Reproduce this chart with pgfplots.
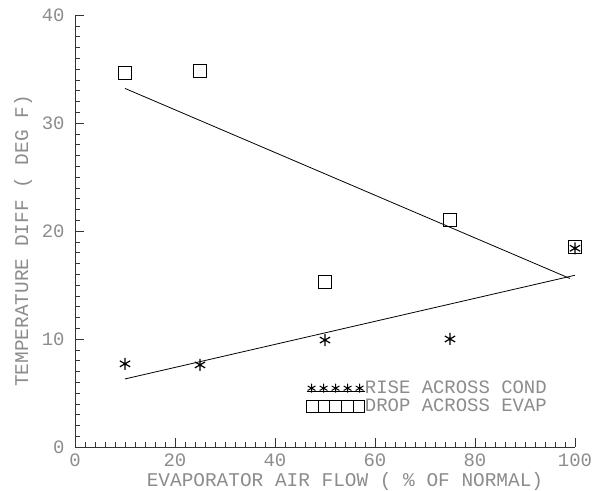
\documentclass[border=0pt]{standalone}
\usepackage{fontspec}
\setmonofont{Liberation Mono}
\usepackage{pgfplots}
\pgfplotsset{compat=1.18}
\definecolor{txt}{HTML}{8C8C8C}
\begin{document}
\begin{tikzpicture}
\begin{axis}[
 scale only axis, width=500bp, height=432bp,
 xmin=0,xmax=100,ymin=0,ymax=40,
 axis lines*=left,
 axis line style={black!80, line width=0.6pt},
 xtick={0,20,...,100}, ytick={0,10,...,40},
 minor x tick num=9, minor y tick num=9,
 tick align=inside,
 major tick length=9bp, minor tick length=5bp,
 tick style={black!80,line width=0.5pt},
 ticklabel style={font=\ttfamily\fontsize{19}{19}\selectfont, text=txt},
 xticklabel style={yshift=-3bp},
 yticklabel style={xshift=-7bp},
 /pgf/number format/assume math mode=true,
 xlabel={EVAPORATOR AIR FLOW ( \% OF NORMAL)},
 ylabel={TEMPERATURE DIFF ( DEG F)},
 label style={font=\ttfamily\fontsize{19.5}{19.5}\selectfont, text=txt},
 xlabel style={inner sep=0pt, yshift=-3bp, xshift=20bp},
 ylabel style={inner sep=0pt, yshift=6bp, xshift=-10bp},
 clip=false,
 legend cell align=left,
 legend style={draw=none, fill=none, at={(axis cs:45.6,6.3)}, anchor=north west,
   font=\ttfamily\fontsize{19}{19}\selectfont, text=txt,
   nodes={inner sep=0pt}, row sep=4bp, column sep=0pt,
   /tikz/every even column/.append style={column sep=6bp}},
]
\addplot[only marks, mark=asterisk, mark size=6bp, mark options={black, line width=1.2pt},
  legend image code/.code={%
    \draw[black, line width=0.8pt] (0bp,-3bp)--(58bp,-3bp);
    \draw[draw=none, mark=asterisk, mark size=4.5bp, mark options={black, line width=1pt}]
      plot coordinates {(5bp,0bp)(17bp,0bp)(29bp,0bp)(41bp,0bp)(53bp,0bp)};}]
  coordinates {(10,7.7)(25,7.6)(50,9.9)(75,10.0)(100,18.4)};
\addlegendentry{RISE ACROSS COND}
\addplot[only marks, mark=square, mark size=6.5bp, mark options={black, line width=0.9pt},
  legend image code/.code={%
    \draw[draw=none, mark=square, mark size=5.8bp, mark options={black, line width=0.9pt}]
      plot coordinates {(5.8bp,0bp)(17.4bp,0bp)(29bp,0bp)(40.6bp,0bp)(52.2bp,0bp)};}]
  coordinates {(10,34.6)(25,34.8)(50,15.3)(75,21.0)(100,18.5)};
\addlegendentry{DROP ACROSS EVAP}
\addplot[black, line width=0.8pt, forget plot] coordinates {(10,33.2)(99,15.6)};
\addplot[black, line width=0.8pt, forget plot] coordinates {(10,6.3)(100,15.9)};
\path (rel axis cs:-0.15,1.0347) (rel axis cs:1.056,-0.0972);
\end{axis}
\end{tikzpicture}
\end{document}
